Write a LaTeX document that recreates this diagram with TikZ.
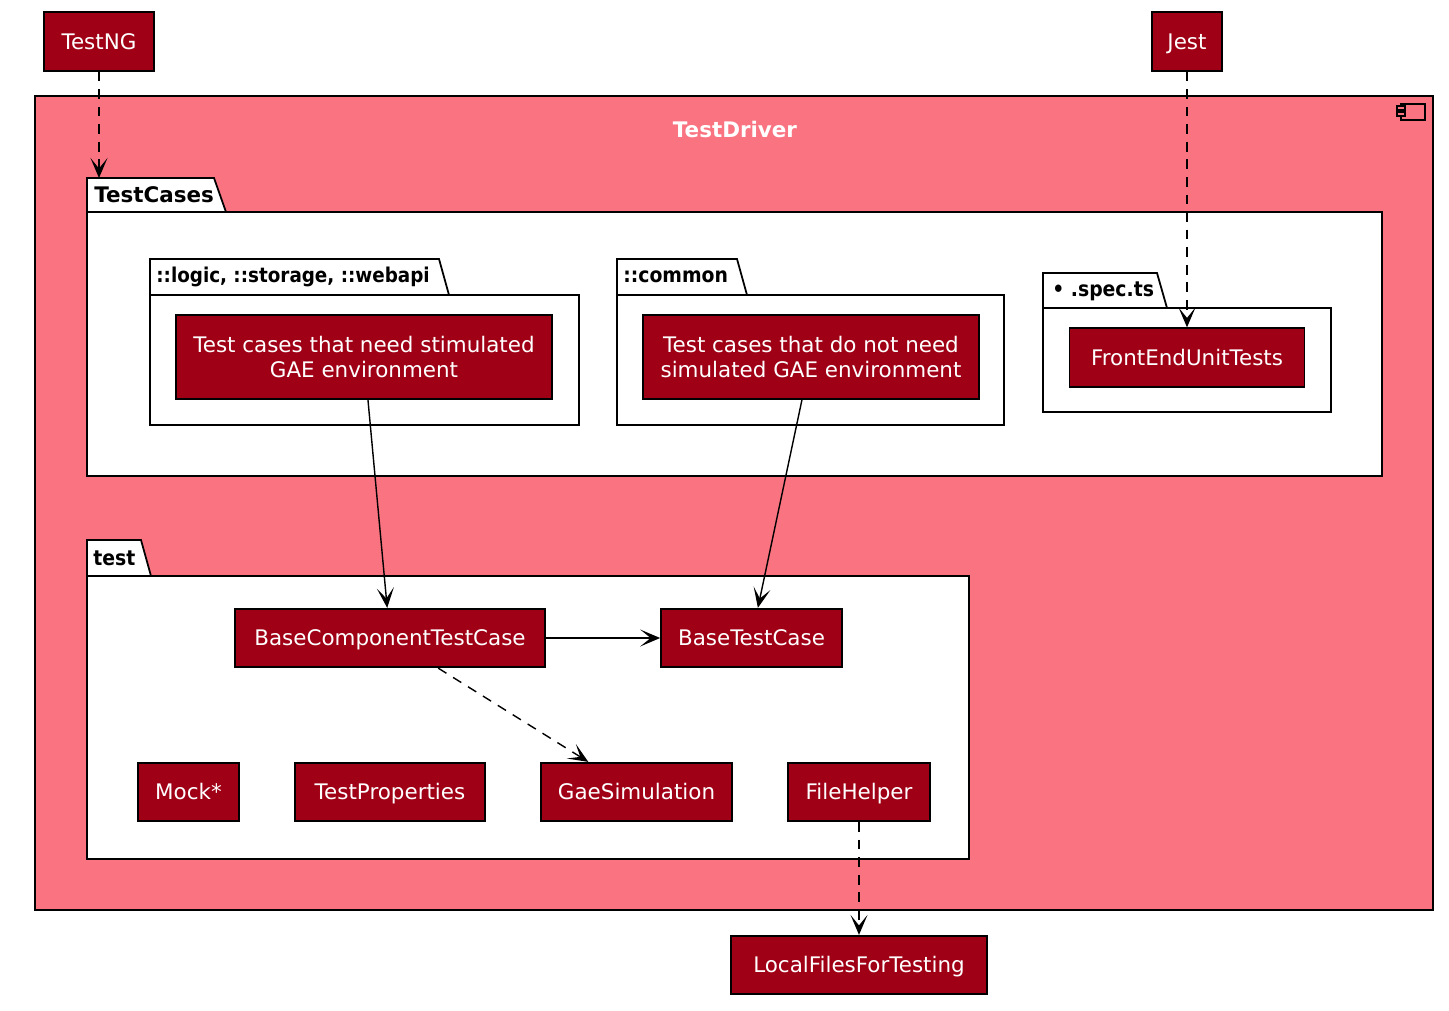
\documentclass[tikz,border=0pt]{standalone}
\usepackage{fontspec}
\setmainfont{DejaVu Sans}
\newfontfamily\condfont{DejaVu Sans Condensed}
\usetikzlibrary{arrows.meta}

\definecolor{nodered}{HTML}{A00016}
\definecolor{drivpink}{HTML}{F97381}

\begin{document}
\begin{tikzpicture}[x=0.02cm, y=-0.02cm,
  box/.style={draw=black, line width=1pt, fill=nodered, text=white, inner sep=0pt,
    minimum height=1.17cm, align=center, font=\fontsize{12.2}{14.7}\selectfont},
  oneline/.style={box, text height=8.9pt, text depth=0pt},
  pkgtext/.style={anchor=west, inner sep=0pt, font=\fontsize{11.9}{14.7}\selectfont\condfont\bfseries},
  pkg/.style={draw=black, line width=1pt, fill=white},
  uses/.style={line width=0.8pt, -{Stealth[length=4mm, width=3.4mm, inset=2.1mm]}},
  needs/.style={uses, dash pattern=on 5.5pt off 4.5pt}]

\path [use as bounding box] (0,0) rectangle (1449,1010);

% COMPONENT
\filldraw [line width=1pt, fill=drivpink] (35,96) rectangle (1433,910);
\node [text=white, font=\fontsize{12.2}{14.7}\selectfont\bfseries] (driver) at (735,130) {TestDriver};
\filldraw [line width=1pt, fill=drivpink] (1401,104) rectangle (1425,120);
\filldraw [line width=1pt, fill=drivpink] (1397,106) rectangle (1405,110);
\filldraw [line width=1pt, fill=drivpink] (1397,112) rectangle (1405,116);

% PACKAGES
\filldraw [pkg] (87,212) -- (87,178) -- (214,178) -- (226,212) -- cycle;
\filldraw [pkg] (87,212) rectangle (1382,476);
\node [pkgtext, font=\fontsize{12.2}{14.7}\selectfont\bfseries] (tcLabel) at (94,195) {TestCases};
\coordinate (tcTab) at (99,178);

\filldraw [pkg] (150,295) -- (150,259) -- (439,259) -- (449,295) -- cycle;
\filldraw [pkg] (150,295) rectangle (579,425);
\node [pkgtext, font=\fontsize{11.6}{14.7}\selectfont\condfont\bfseries] (logicLabel) at (156,277) {::logic, ::storage, ::webapi};

\filldraw [pkg] (617,295) -- (617,259) -- (737,259) -- (747,295) -- cycle;
\filldraw [pkg] (617,295) rectangle (1004,425);
\node [pkgtext] (commonLabel) at (623,277) {::common};

\filldraw [pkg] (1043,308) -- (1043,273) -- (1157,273) -- (1167,308) -- cycle;
\filldraw [pkg] (1043,308) rectangle (1331,412);
\node [pkgtext] (specLabel) at (1052,291) {\textbullet{} .spec.ts};

\filldraw [pkg] (87,576) -- (87,540) -- (141,540) -- (151,576) -- cycle;
\filldraw [pkg] (87,576) rectangle (969,859);
\node [pkgtext] (testLabel) at (93,558) {test};

% NODES
\node [oneline, minimum width=2.2cm] (testng) at (99,41.5) {TestNG};
\node [oneline, minimum width=1.4cm] (jest) at (1187,41.5) {Jest};
\node [box, minimum width=7.52cm, minimum height=1.68cm] (needGae) at (364,357)
  {Test cases that need stimulated\\GAE environment};
\node [box, minimum width=6.72cm, minimum height=1.68cm] (noGae) at (811,357)
  {Test cases that do not need\\simulated GAE environment};
\node [oneline, minimum width=4.7cm] (frontEnd) at (1187,357.5) {FrontEndUnitTests};
\node [oneline, minimum width=6.2cm] (baseComp) at (390,638) {BaseComponentTestCase};
\node [oneline, minimum width=3.62cm] (baseTest) at (751.5,638) {BaseTestCase};
\node [oneline, minimum width=2.02cm] (mock) at (188.5,792) {Mock*};
\node [oneline, minimum width=3.8cm] (testProps) at (390,792) {TestProperties};
\node [oneline, minimum width=3.82cm] (gaeSim) at (636.5,792) {GaeSimulation};
\node [oneline, minimum width=2.84cm] (fileHelper) at (859,792) {FileHelper};
\node [oneline, minimum width=5.12cm] (localFiles) at (859,965) {LocalFilesForTesting};

% ARROWS
\draw [needs] (testng) -- (tcTab);
\draw [needs] (jest) -- (frontEnd);
\draw [uses] (needGae) -- (baseComp);
\draw [uses] (noGae) -- (baseTest);
\draw [uses] (baseComp) -- (baseTest);
\draw [needs] (baseComp) -- (gaeSim);
\draw [needs] (fileHelper) -- (localFiles);

\end{tikzpicture}
\end{document}
